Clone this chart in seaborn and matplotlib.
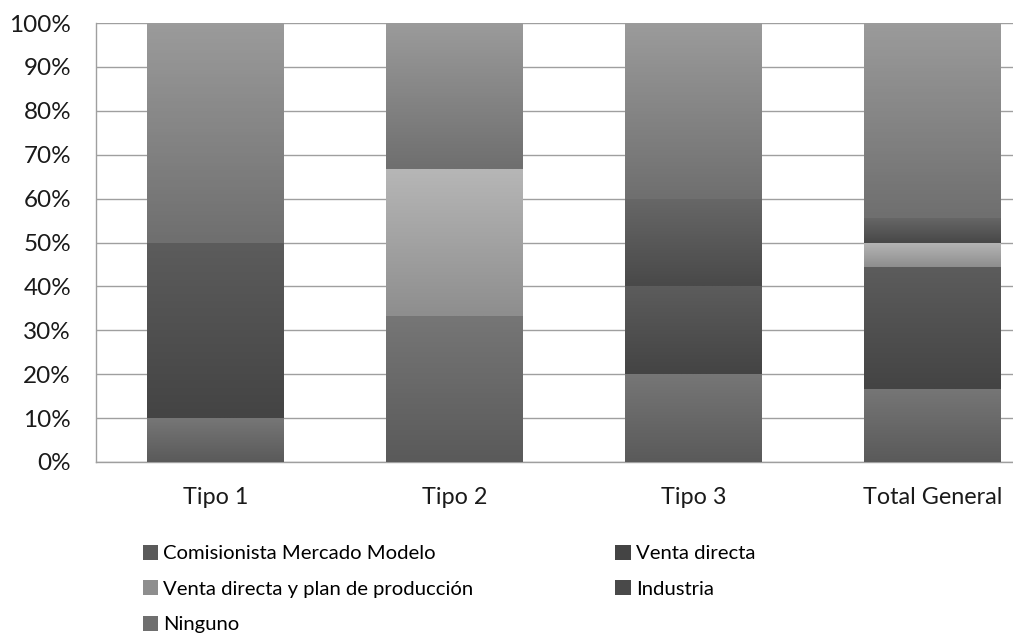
import numpy as np
import pandas as pd
import seaborn as sns
import matplotlib.pyplot as plt
from matplotlib.colors import LinearSegmentedColormap
from matplotlib.patches import Patch

# datos (fraccion de cada tipo)
categorias = ["Tipo 1", "Tipo 2", "Tipo 3", "Total General"]
series = ["Comisionista Mercado Modelo", "Venta directa",
          "Venta directa y plan de producción", "Industria", "Ninguno"]
comisionista = [0.10, 1 / 3, 0.20, 3 / 18]
venta_directa = [0.40, 0.0, 0.20, 5 / 18]
venta_plan = [0.0, 1 / 3, 0.0, 1 / 18]
industria = [0.0, 0.0, 0.20, 1 / 18]
ninguno = [0.50, 1 / 3, 0.40, 8 / 18]
ticks_y = [0, 0.1, 0.2, 0.3, 0.4, 0.5, 0.6, 0.7, 0.8, 0.9, 1.0]

valores = [comisionista, venta_directa, venta_plan, industria, ninguno]
# degradado (arriba, abajo) de cada serie
grad = [("#767676", "#5a5a5a"), ("#5c5c5c", "#444444"), ("#b6b6b6", "#8e8e8e"),
        ("#676767", "#494949"), ("#9b9b9b", "#6f6f6f")]

plt.rcParams['font.family'] = ['Lato', 'DejaVu Sans']
fig = plt.figure(figsize=(10.13, 6.35), dpi=100)
ax = fig.add_axes([96 / 1013, 173 / 635, 1 - 96 / 1013, 439 / 635])

bottom = np.zeros(len(categorias))
segmentos = []
for nombre, vals, (c_top, c_bot) in zip(series, valores, grad):
    df = pd.DataFrame({"cat": categorias, "val": vals})
    n0 = len(ax.patches)
    sns.barplot(data=df, x="cat", y="val", order=categorias, color=c_bot,
                bottom=bottom.copy(), width=0.573, ax=ax, errorbar=None,
                saturation=1, edgecolor="none", zorder=2)
    for p in ax.patches[n0:]:
        segmentos.append((p, c_top, c_bot))
    bottom += np.array(vals)

# degradado vertical dentro de cada segmento
for p, c_top, c_bot in segmentos:
    x0, y0 = p.get_x(), p.get_y()
    w, h = p.get_width(), p.get_height()
    if h <= 0:
        continue
    cmap = LinearSegmentedColormap.from_list("g", [c_bot, c_top])
    grad_img = np.linspace(0, 1, 64).reshape(-1, 1)
    im = ax.imshow(grad_img, cmap=cmap, extent=[x0, x0 + w, y0, y0 + h],
                   origin="lower", aspect="auto", zorder=3)
    im.set_clip_path(p)

ax.set_xlim(-0.5, -0.5 + 917 / 239)
ax.set_ylim(0, 1)
ax.set_yticks(ticks_y)
ax.set_yticklabels([f"{int(round(t * 100))}%" for t in ticks_y])
ax.set_xlabel("")
ax.set_ylabel("")
ax.yaxis.grid(True, color="#9f9f9f", linewidth=1.0, zorder=0)
ax.set_axisbelow(True)
for s in ["top", "right"]:
    ax.spines[s].set_visible(False)
for s in ["left", "bottom"]:
    ax.spines[s].set_color("#9f9f9f")
    ax.spines[s].set_linewidth(1.0)
ax.tick_params(axis="both", length=0, labelcolor="#1a1a1a")
ax.tick_params(axis="y", pad=18, labelsize=17.5)
ax.tick_params(axis="x", pad=18, labelsize=16.8)

# leyenda en dos columnas, orden por filas
handles = [Patch(facecolor=c[1], edgecolor="none") for c in grad]
orden = [0, 2, 4, 1, 3]
fig.legend([handles[i] for i in orden], [series[i] for i in orden],
           loc="upper left", bbox_to_anchor=(143 / 1013, 1 - 545 / 635),
           ncol=2, frameon=False, fontsize=14.6, handlelength=0.75,
           handleheight=0.75, handletextpad=0.25, columnspacing=7.0,
           labelspacing=0.88, borderaxespad=0, borderpad=0)

fig.savefig("out.png", dpi=100)
